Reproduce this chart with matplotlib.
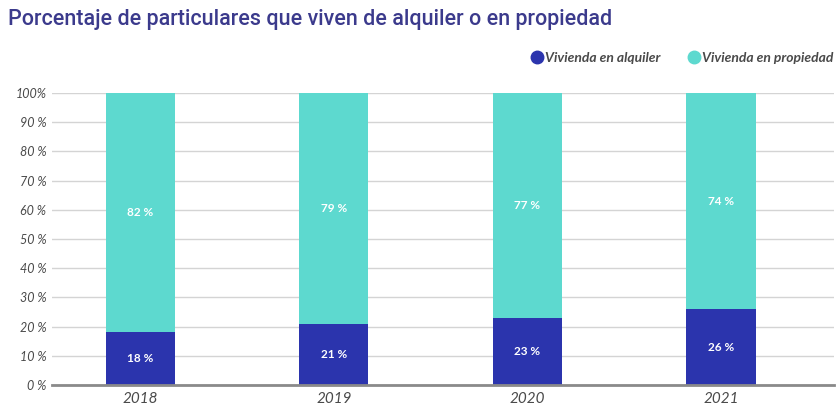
import numpy as np
import matplotlib.pyplot as plt
from matplotlib.lines import Line2D

plt.rcParams['font.family'] = ['Lato', 'DejaVu Sans']

years = ['2018', '2019', '2020', '2021']
alquiler = [18, 21, 23, 26]
propiedad = [82, 79, 77, 74]
yticks = [0, 10, 20, 30, 40, 50, 60, 70, 80, 90, 100]
ytick_labels = ['0 %', '10 %', '20 %', '30 %', '40 %', '50 %', '60 %', '70 %', '80 %', '90 %', '100%']

c_alq = '#2b34ad'
c_prop = '#5dd9cf'
c_text = '#4a4a4a'

fig = plt.figure(figsize=(8.36, 4.09), dpi=100)
ax = fig.add_axes([0.0622, 0.0587, 0.9354, 0.7139])

x = np.arange(len(years))
b1 = ax.bar(x, alquiler, width=0.357, color=c_alq, zorder=3)
b2 = ax.bar(x, propiedad, width=0.357, bottom=alquiler, color=c_prop, zorder=3)
ax.bar_label(b1, labels=[f'{v} %' for v in alquiler], label_type='center',
             color='white', fontsize=8.5, fontweight='bold')
ax.bar_label(b2, labels=[f'{v} %' for v in propiedad], label_type='center',
             color='white', fontsize=8.5, fontweight='bold')

ax.set_xlim(-0.457, 3.584)
ax.set_ylim(0, 100)
ax.set_yticks(yticks)
ax.set_yticklabels(ytick_labels, fontsize=9, style='italic', color=c_text)
ax.set_xticks(x)
ax.set_xticklabels(years, fontsize=11, style='italic', color=c_text)
ax.tick_params(axis='both', length=0, pad=4)
ax.tick_params(axis='x', pad=5)
ax.grid(axis='y', color='#d4d4d4', linewidth=1, zorder=0)
for s in ['top', 'right', 'left']:
    ax.spines[s].set_visible(False)
ax.spines['bottom'].set_color('#8a8a8a')
ax.spines['bottom'].set_linewidth(2)
ax.spines['bottom'].set_zorder(4)

fig.text(0.009, 0.952, 'Porcentaje de particulares que viven de alquiler o en propiedad',
         fontsize=15.5, fontweight='medium', color='#3b3a8c', va='center', ha='left',
         family=['Roboto', 'DejaVu Sans'])

handles = [
    Line2D([], [], marker='o', linestyle='none', markersize=9, color=c_alq, label='Vivienda en alquiler'),
    Line2D([], [], marker='o', linestyle='none', markersize=9, color=c_prop, label='Vivienda en propiedad'),
]
leg = fig.legend(handles=handles, loc='center right', bbox_to_anchor=(1.012, 0.858), ncol=2,
                 frameon=False, handletextpad=0.1, columnspacing=1.9, handlelength=1.0,
                 prop={'size': 10, 'style': 'italic', 'weight': 'bold'})
for t in leg.get_texts():
    t.set_color(c_text)

fig.savefig('out.png', dpi=100)
